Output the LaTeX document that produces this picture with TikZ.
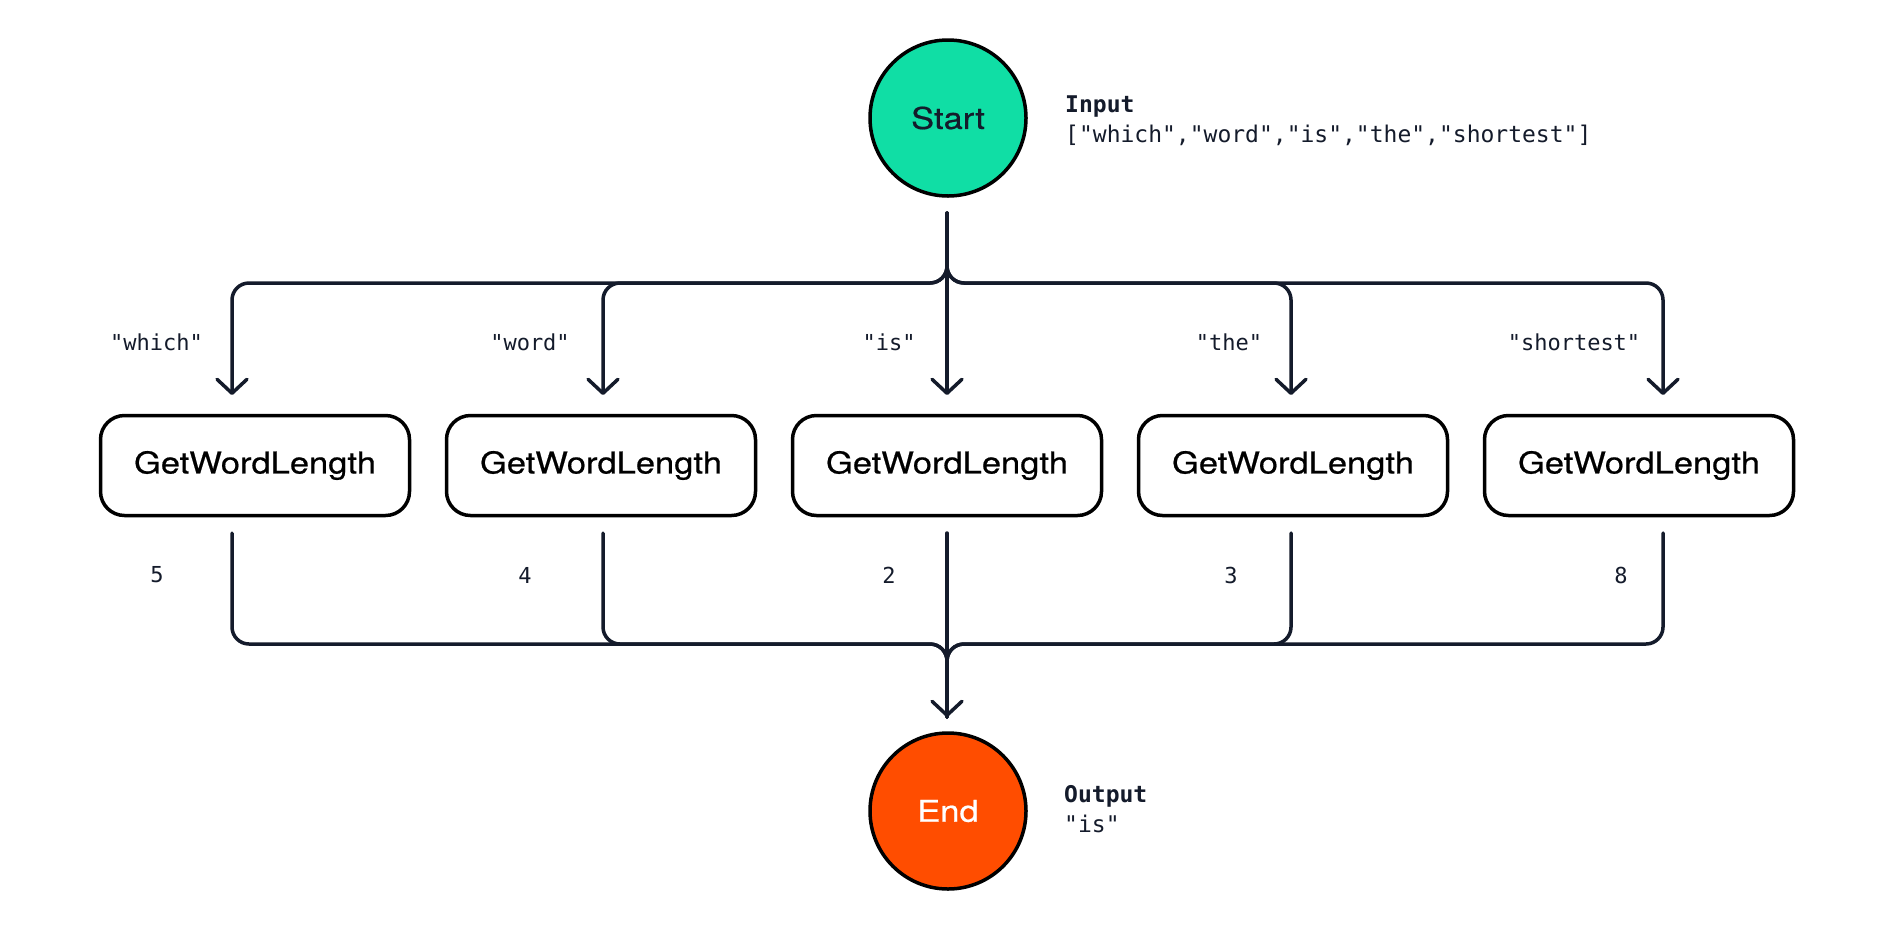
\documentclass[tikz,border=0pt]{standalone}
\usepackage{fontspec}
\usetikzlibrary{arrows.meta}
\newfontfamily\boxfont{TeX Gyre Heros}[FakeStretch=1.15,FakeBold=0.6]
\newfontfamily\labfont{DejaVu Sans Mono}
\definecolor{ink}{HTML}{141B2B}
\definecolor{startgreen}{HTML}{10DEA5}
\definecolor{endorange}{HTML}{FF4D00}
\tikzset{
  conn/.style={draw=ink, line width=3.5pt, rounded corners=17pt, line cap=round, line join=round},
  tip/.style={-{Straight Barb[length=14pt,width=30pt,line cap=round,line join=round]}},
  fnbox/.style={draw=black, line width=3.5pt, rounded corners=24pt, minimum width=309pt, minimum height=100pt, inner sep=0pt, text=black, font=\boxfont\fontsize{30}{36}\selectfont},
  termnode/.style={circle, draw=black, line width=3.5pt, minimum size=156pt, inner sep=0pt, font=\boxfont\fontsize{30}{36}\selectfont},
  lab/.style={text=ink, inner sep=0pt, font=\labfont\fontsize{22}{26}\selectfont},
  info/.style={text=ink, inner sep=0pt, anchor=base west, font=\labfont\fontsize{23}{28}\selectfont}
}
\begin{document}
\begin{tikzpicture}[x=1pt,y=-1pt]
\useasboundingbox[fill=white] (0,0) rectangle (1894,930);
% terminals
\node[termnode, fill=startgreen, text=ink] (start) at (948,118) {\raisebox{-2pt}{Start}};
\node[termnode, fill=endorange, text=white] (end) at (948,811) {\raisebox{-2pt}{End}};
% function boxes
\node[fnbox] (b1) at (255,465.5) {\raisebox{-3pt}{GetWordLength}};
\node[fnbox] (b2) at (601,465.5) {\raisebox{-3pt}{GetWordLength}};
\node[fnbox] (b3) at (947,465.5) {\raisebox{-3pt}{GetWordLength}};
\node[fnbox] (b4) at (1293,465.5) {\raisebox{-3pt}{GetWordLength}};
\node[fnbox] (b5) at (1639,465.5) {\raisebox{-3pt}{GetWordLength}};
% connector coordinates
\coordinate (s0) at (947,213);
\coordinate (t1) at (232,395);
\coordinate (t2) at (603,395);
\coordinate (t3) at (947,395);
\coordinate (t4) at (1291,395);
\coordinate (t5) at (1663,395);
\coordinate (h1) at (232,283);
\coordinate (h2) at (603,283);
\coordinate (h4) at (1291,283);
\coordinate (h5) at (1663,283);
\coordinate (u1) at (232,533);
\coordinate (u2) at (603,533);
\coordinate (u3) at (947,533);
\coordinate (u4) at (1291,533);
\coordinate (u5) at (1663,533);
\coordinate (m0) at (947,644);
\coordinate (m) at (947,717);
% fan-out
\draw[conn,tip] (s0) |- (h1) -- (t1);
\draw[conn,tip] (s0) |- (h2) -- (t2);
\draw[conn,tip] (s0) -- (t3);
\draw[conn,tip] (s0) |- (h4) -- (t4);
\draw[conn,tip] (s0) |- (h5) -- (t5);
% fan-in
\draw[conn] (u1) |- (m0) -- (m);
\draw[conn] (u2) |- (m0) -- (m);
\draw[conn] (u4) |- (m0) -- (m);
\draw[conn] (u5) |- (m0) -- (m);
\draw[conn,tip] (u3) -- (m);
% edge labels
\node[lab] (l1) at (156.5,342) {"which"};
\node[lab] (l2) at (530,342) {"word"};
\node[lab] (l3) at (889,342) {"is"};
\node[lab] (l4) at (1229,342) {"the"};
\node[lab] (l5) at (1574,342) {"shortest"};
\node[lab] (n1) at (157,575) {5};
\node[lab] (n2) at (525,575) {4};
\node[lab] (n3) at (889,575) {2};
\node[lab] (n4) at (1231,575) {3};
\node[lab] (n5) at (1621,575) {8};
% input / output
\node[info, font=\labfont\bfseries\fontsize{23}{28}\selectfont] (inlab) at (1065,112) {Input};
\node[info] (inval) at (1065,142) {["which","word","is","the","shortest"]};
\node[info, font=\labfont\bfseries\fontsize{23}{28}\selectfont] (outlab) at (1064,802) {Output};
\node[info] (outval) at (1064,832) {"is"};
\end{tikzpicture}
\end{document}
